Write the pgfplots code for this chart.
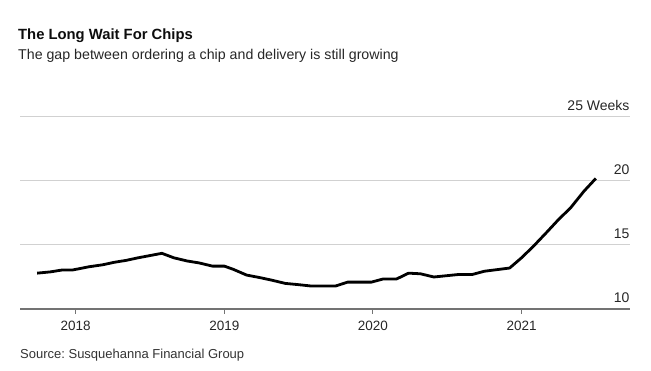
\documentclass[border=0pt]{standalone}
\usepackage{pgfplots}
\pgfplotsset{compat=1.18}
\usepackage{fontspec}
\setmainfont{Liberation Sans}
\frenchspacing
\begin{document}
\begin{tikzpicture}
\useasboundingbox (0pt,0pt) rectangle (651pt,371pt);
\node[anchor=base west, font=\fontsize{14.8}{17}\selectfont\bfseries, inner sep=0, text=black!95] at (18pt,331pt) {The Long Wait For Chips};
\node[anchor=base west, font=\fontsize{14.2}{17}\selectfont, inner sep=0, text=black!85] at (18pt,311pt) {The gap between ordering a chip and delivery is still growing};
\node[anchor=base west, font=\fontsize{13}{15}\selectfont, inner sep=0, text=black!80] at (20pt,12pt) {Source: Susquehanna Financial Group};
\begin{axis}[
  at={(20pt,62pt)}, anchor=south west, scale only axis,
  width=610pt, height=192pt,
  xmin=2017.625, xmax=2021.73, ymin=10, ymax=25,
  axis x line*=bottom, axis y line*=right,
  y axis line style={draw=none},
  x axis line style={draw=black!55, line width=1.2pt, -},
  xtick={2018,2019,2020,2021}, xticklabels={2018,2019,2020,2021},
  ytick={10,15,20,25}, yticklabels={10,15,20,25 Weeks},
  ymajorgrids, grid style={black!18, line width=1pt},
  tick align=outside, major tick length=5pt,
  xtick style={draw=black!55, line width=0.9pt},
  ytick style={draw=none},
  yticklabel style={anchor=south east, font=\fontsize{14}{16}\selectfont, text=black!85, xshift=-2pt, yshift=3pt},
  xticklabel style={font=\fontsize{13.5}{16}\selectfont, text=black!85, yshift=-4pt},
  clip=false,
]
\addplot[black, line width=2.8pt, line join=round] coordinates {
(2017.74,12.8) (2017.83,12.9) (2017.91,13.05) (2017.98,13.05)
(2018.09,13.3) (2018.18,13.45) (2018.26,13.65) (2018.34,13.8)
(2018.42,14.0) (2018.58,14.35) (2018.66,14.0) (2018.75,13.75)
(2018.83,13.6) (2018.92,13.35) (2019.0,13.35) (2019.06,13.1)
(2019.15,12.65) (2019.24,12.45) (2019.32,12.25) (2019.41,12.0)
(2019.5,11.9) (2019.58,11.8) (2019.75,11.8) (2019.83,12.1)
(2019.99,12.1) (2020.07,12.35) (2020.16,12.35) (2020.24,12.8)
(2020.32,12.75) (2020.41,12.5) (2020.58,12.7) (2020.67,12.7)
(2020.75,12.95) (2020.92,13.2) (2021.0,14.0) (2021.08,14.9)
(2021.17,16.0) (2021.25,17.0) (2021.33,17.9) (2021.42,19.2)
(2021.5,20.2)
};
\end{axis}
\end{tikzpicture}
\end{document}
